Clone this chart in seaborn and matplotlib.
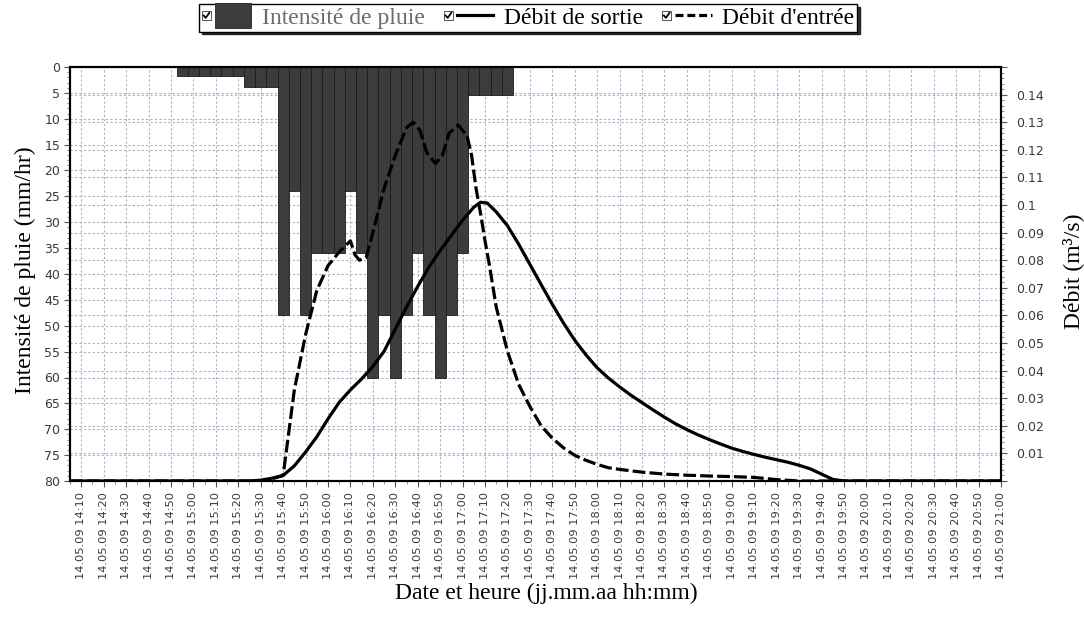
import matplotlib
matplotlib.use("Agg")
import matplotlib.pyplot as plt
import seaborn as sns
import pandas as pd
from matplotlib.ticker import MultipleLocator, AutoMinorLocator, FuncFormatter
from matplotlib.legend_handler import HandlerBase
from matplotlib.patches import Rectangle
from matplotlib.lines import Line2D

# ---------------- data ----------------
DATE = "14.05.09"
x_start, x_end = "14:05", "21:00"

rain_times = ["14:55", "15:00", "15:05", "15:10", "15:15", "15:20",
              "15:25", "15:30", "15:35",
              "15:40", "15:45", "15:50", "15:55", "16:00", "16:05", "16:10", "16:15",
              "16:20", "16:25", "16:30", "16:35", "16:40", "16:45", "16:50", "16:55", "17:00",
              "17:05", "17:10", "17:15", "17:20"]
rain_intensity = [1.8, 1.8, 1.8, 1.8, 1.8, 1.8,
                  3.9, 3.9, 3.9,
                  48, 24, 48, 36, 36, 36, 24, 36,
                  60, 48, 60, 48, 36, 48, 60, 48, 36,
                  5.5, 5.5, 5.5, 5.5]

in_times = ["14:05", "15:30", "15:35", "15:40", "15:45", "15:50", "15:55", "16:00", "16:05",
            "16:10", "16:12", "16:14", "16:17", "16:20", "16:25", "16:30", "16:35", "16:38",
            "16:41", "16:44", "16:48", "16:51", "16:54", "16:58", "17:02", "17:04", "17:06",
            "17:08", "17:10", "17:12", "17:15", "17:20", "17:25", "17:30", "17:35", "17:40",
            "17:45", "17:50", "17:55", "18:00", "18:05", "18:10", "18:20", "18:30", "18:40",
            "18:50", "19:00", "19:10", "19:20", "19:30", "21:00"]
in_flow = [0.0, 0.0, 0.0008, 0.002, 0.033, 0.053, 0.069, 0.078, 0.083,
           0.087, 0.082, 0.080, 0.081, 0.090, 0.106, 0.118, 0.128, 0.130,
           0.127, 0.119, 0.115, 0.118, 0.126, 0.129, 0.125, 0.118, 0.106,
           0.097, 0.087, 0.078, 0.063, 0.047, 0.035, 0.027, 0.020, 0.0155,
           0.012, 0.0093, 0.0075, 0.006, 0.0048, 0.0042, 0.0032, 0.0025, 0.0021,
           0.0018, 0.0016, 0.0013, 0.0005, 0.0, 0.0]

out_times = ["14:05", "15:25", "15:30", "15:35", "15:40", "15:45", "15:50", "15:55", "16:00",
             "16:05", "16:10", "16:15", "16:20", "16:25", "16:30", "16:35", "16:40", "16:45",
             "16:50", "16:55", "17:00", "17:05", "17:08", "17:11", "17:15", "17:20", "17:25",
             "17:30", "17:35", "17:40", "17:45", "17:50", "17:55", "18:00", "18:05", "18:10",
             "18:15", "18:20", "18:25", "18:30", "18:35", "18:40", "18:45", "18:50", "18:55",
             "19:00", "19:05", "19:10", "19:15", "19:20", "19:25", "19:30", "19:35", "19:40",
             "19:45", "19:50", "21:00"]
out_flow = [0.0, 0.0, 0.0003, 0.001, 0.002, 0.0055, 0.0105, 0.016, 0.0225,
            0.0285, 0.033, 0.037, 0.0415, 0.047, 0.055, 0.063, 0.0705, 0.0775,
            0.0835, 0.089, 0.0945, 0.0992, 0.101, 0.1007, 0.0975, 0.0925, 0.0858,
            0.0785, 0.0712, 0.064, 0.0572, 0.051, 0.0457, 0.041, 0.0373, 0.0341,
            0.0311, 0.0284, 0.0257, 0.0231, 0.0207, 0.0186, 0.0167, 0.015, 0.0134,
            0.0119, 0.0107, 0.0096, 0.0086, 0.0077, 0.0068, 0.0057, 0.0044, 0.0025,
            0.0006, 0.0, 0.0]

legend_labels = ["Intensité de pluie", "Débit de sortie", "Débit d'entrée"]
ylabel_left = "Intensité de pluie (mm/hr)"
ylabel_right = "Débit (m³/s)"
xlabel = "Date et heure (jj.mm.aa hh:mm)"


def to_min(s):
    h, m = s.split(":")
    return int(h) * 60 + int(m)


rain_df = pd.DataFrame({"t": [to_min(s) for s in rain_times], "i": rain_intensity})
in_df = pd.DataFrame({"t": [to_min(s) for s in in_times], "q": in_flow})
out_df = pd.DataFrame({"t": [to_min(s) for s in out_times], "q": out_flow})

# ---------------- style ----------------
plt.rcParams["font.family"] = ["DejaVu Sans"]
SERIF = "Liberation Serif"
BAR_COLOR = "#3c3c3c"
GRID_COLOR = "#aab0c8"
TICK_COLOR = "#3a3a3a"
TICK_SIZE = 9
XTICK_SIZE = 8.2
LABEL_SIZE = 17

fig = plt.figure(figsize=(10.84, 6.32), dpi=100)
pos = [70 / 1084, 1 - 481 / 632, 931 / 1084, 414 / 632]
ax = fig.add_axes(pos)
ax_g = ax.twinx()
ax2 = ax.twinx()
ax_g.set_zorder(0)
ax.set_zorder(1)
ax2.set_zorder(2)
ax.patch.set_visible(False)
ax_g.patch.set_visible(True)
ax_g.patch.set_facecolor("white")
ax2.patch.set_visible(False)

# bars (rain intensity, inverted left axis)
sns.barplot(data=rain_df, x="t", y="i", native_scale=True, orient="x", width=1.0,
            color=BAR_COLOR, saturation=1, edgecolor="#1c1c1c", linewidth=0.6,
            errorbar=None, ax=ax)

# flow lines (right axis)
sns.lineplot(data=out_df, x="t", y="q", ax=ax2, color="black", linewidth=2.3)
sns.lineplot(data=in_df, x="t", y="q", ax=ax2, color="black", linewidth=2.3)
ax2.lines[-1].set_dashes([4, 1.3])
for ln in ax2.lines:
    ln.set_solid_capstyle("butt")
    ln.set_dash_capstyle("butt")
    ln.set_solid_joinstyle("round")

# limits
ax.set_xlim(to_min(x_start), to_min(x_end))
ax.set_ylim(80, 0)
ax2.set_ylim(0, 0.15)
ax_g.set_ylim(0, 0.15)

# x ticks
ax.xaxis.set_major_locator(MultipleLocator(10))
ax.xaxis.set_minor_locator(MultipleLocator(5))
ax.xaxis.set_major_formatter(FuncFormatter(
    lambda v, p: f"{DATE} {int(round(v)) // 60}:{int(round(v)) % 60:02d}"))
ax.tick_params(axis="x", which="major", labelrotation=90, labelsize=XTICK_SIZE,
               labelcolor=TICK_COLOR, length=4, width=0.8, color="#555", pad=4)
ax.tick_params(axis="x", which="minor", length=2, width=0.6, color="#777")

# left y ticks
ax.yaxis.set_major_locator(MultipleLocator(5))
ax.yaxis.set_minor_locator(AutoMinorLocator(5))
ax.yaxis.set_major_formatter(FuncFormatter(lambda v, p: f"{int(round(v))}"))
ax.tick_params(axis="y", which="major", labelsize=TICK_SIZE, labelcolor=TICK_COLOR,
               length=4, width=0.8, color="#555", pad=3)
ax.tick_params(axis="y", which="minor", length=2, width=0.6, color="#777")

# right y ticks
ax2.yaxis.set_major_locator(MultipleLocator(0.01))
ax2.yaxis.set_minor_locator(AutoMinorLocator(5))
ax2.yaxis.set_major_formatter(FuncFormatter(
    lambda v, p: "" if round(v, 3) <= 0 or round(v, 3) >= 0.15 else f"{round(v, 2):g}"))
ax2.tick_params(axis="y", which="major", labelsize=TICK_SIZE, labelcolor=TICK_COLOR,
                length=4, width=0.8, color="#555", pad=7)
ax2.tick_params(axis="y", which="minor", length=2, width=0.6, color="#777")

# background grid for right-axis steps
ax_g.yaxis.set_major_locator(MultipleLocator(0.01))
ax_g.tick_params(axis="y", which="both", right=False, labelright=False,
                 left=False, labelleft=False)
ax_g.grid(axis="y", color=GRID_COLOR, linestyle=(0, (2, 2)), linewidth=0.8)
for s in ax_g.spines.values():
    s.set_visible(False)

ax.set_axisbelow(True)
ax.grid(axis="y", which="major", color=GRID_COLOR, linestyle=(0, (2, 2)), linewidth=0.8)
ax.grid(axis="x", which="major", color=GRID_COLOR, linestyle=(0, (2, 2)), linewidth=0.8)

for a in (ax, ax2):
    for s in a.spines.values():
        s.set_color("black")
        s.set_linewidth(1.5)

# labels
ax.set_ylabel(ylabel_left, fontfamily=SERIF, fontsize=LABEL_SIZE)
ax.yaxis.set_label_coords(-0.0365, 0.51)
ax2.set_ylabel(ylabel_right, fontfamily=SERIF, fontsize=LABEL_SIZE)
ax2.yaxis.set_label_coords(1.0655, 0.506)
ax.set_xlabel(xlabel, fontfamily=SERIF, fontsize=LABEL_SIZE)
ax.xaxis.set_label_coords(0.512, -0.245)


# legend with check boxes
class CheckHandler(HandlerBase):
    def create_artists(self, legend, orig_handle, xdescent, ydescent, width, height,
                       fontsize, trans):
        x0, y0 = -xdescent, -ydescent
        s = 0.4 * fontsize
        cy = y0 + height / 2
        box = Rectangle((x0, cy - s / 2), s, s, facecolor="white", edgecolor="#555",
                        linewidth=0.7, transform=trans)
        chk = Line2D([x0 + 0.2 * s, x0 + 0.42 * s, x0 + 0.8 * s],
                     [cy, cy - 0.25 * s, cy + 0.28 * s], color="black", linewidth=1.3,
                     transform=trans)
        gx = x0 + s + 0.4 * s
        w = width - (gx - x0)
        if isinstance(orig_handle, Rectangle):
            ph = 1.1 * fontsize
            art = Rectangle((gx, cy - ph / 2), w, ph, facecolor=orig_handle.get_facecolor(),
                            edgecolor="#222", linewidth=0.6, transform=trans)
        else:
            art = Line2D([gx, gx + w], [cy, cy], color="black",
                         linewidth=orig_handle.get_linewidth(), transform=trans)
            d = getattr(orig_handle, "legend_dashes", None)
            if d:
                art.set_dashes(d)
            art.set_dash_capstyle("butt")
        return [box, chk, art]


h_rain = Rectangle((0, 0), 1, 1, facecolor=BAR_COLOR, edgecolor="#1c1c1c")
h_out = Line2D([], [], color="black", linewidth=2.3)
h_in = Line2D([], [], color="black", linewidth=2.3)
h_in.legend_dashes = (2.5, 1.2)
hd = CheckHandler()
leg = fig.legend([h_rain, h_out, h_in], legend_labels,
                 handler_map={h_rain: hd, h_out: hd, h_in: hd},
                 loc="center", bbox_to_anchor=(528 / 1084, 1 - 18 / 632), ncol=3,
                 frameon=True, fancybox=False, shadow={"color": "black", "alpha": 0.8},
                 edgecolor="black", framealpha=1,
                 prop={"family": SERIF, "size": 17}, handlelength=2.1,
                 handletextpad=0.45, columnspacing=0.8, borderpad=0.12,
                 handleheight=0.7)
leg.get_frame().set_linewidth(1.0)
leg.get_texts()[0].set_color("#6b6b6b")

fig.savefig("out.png", dpi=100)
